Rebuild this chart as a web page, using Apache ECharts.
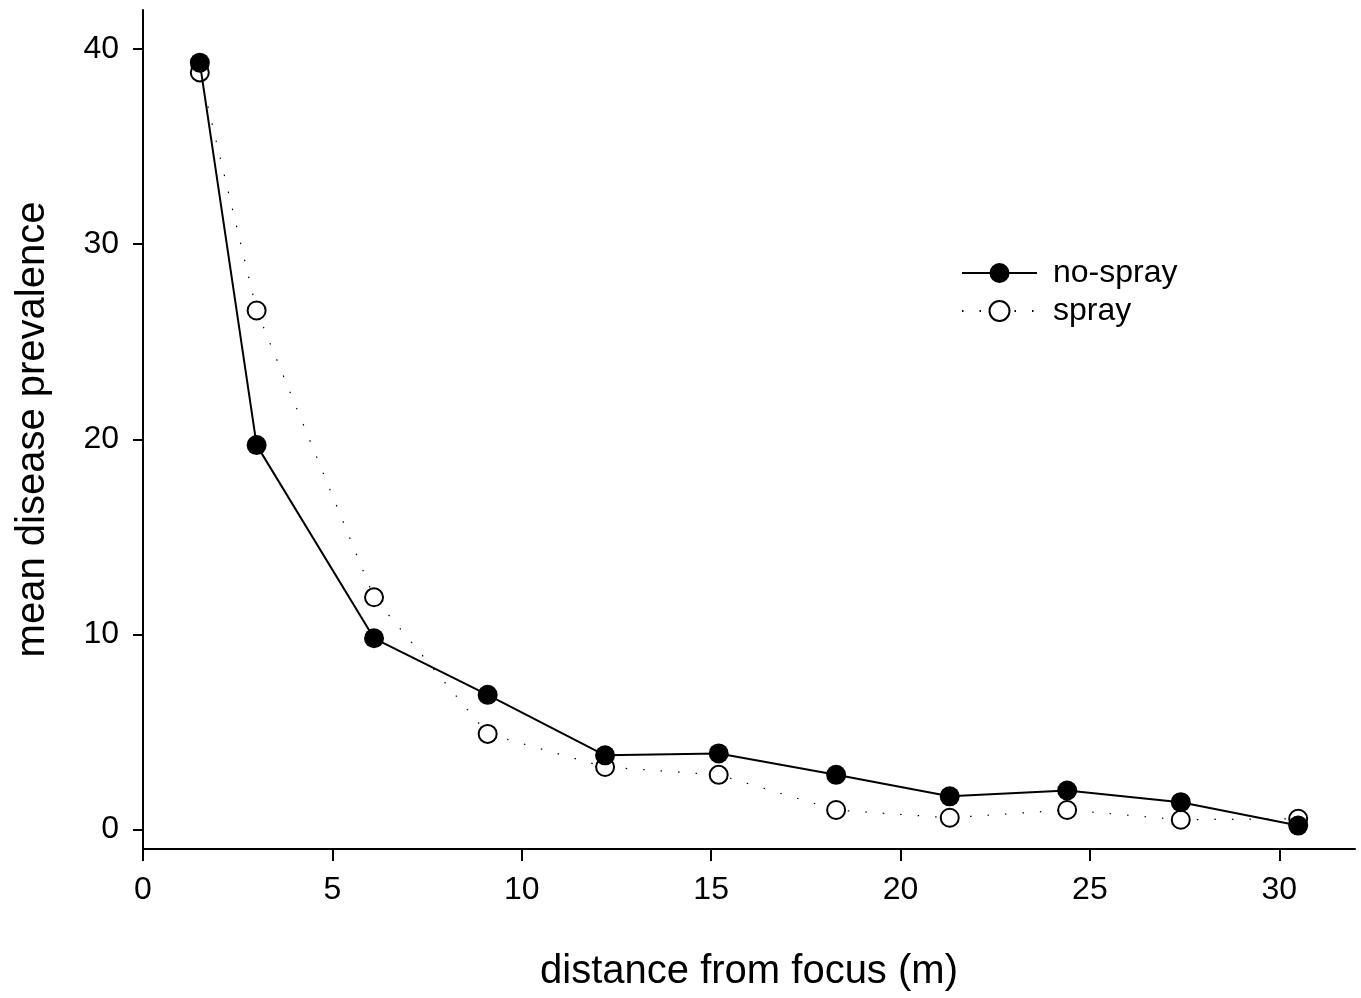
<!DOCTYPE html>
<html>
<head>
<meta charset="utf-8">
<script src="https://cdn.jsdelivr.net/npm/echarts@6/dist/echarts.min.js"></script>
<style>
html,body{margin:0;padding:0;background:#fff;}
#main{width:1361px;height:998px;}
</style>
</head>
<body>
<div id="main"></div>
<script>
var distances = [1.5, 3.0, 6.1, 9.1, 12.2, 15.2, 18.3, 21.3, 24.4, 27.4, 30.5];
var noSpray = [39.3, 19.7, 9.8, 6.9, 3.8, 3.9, 2.8, 1.7, 2.0, 1.4, 0.2];
var spray = [38.8, 26.6, 11.9, 4.9, 3.2, 2.8, 1.0, 0.6, 1.0, 0.5, 0.55];
var xTicks = [0, 5, 10, 15, 20, 25, 30];
var yTicks = [0, 10, 20, 30, 40];

function pairs(xs, ys){ return xs.map(function(x,i){ return [x, ys[i]]; }); }

var font = 'Liberation Sans, Arial, sans-serif';
var chart = echarts.init(document.getElementById('main'));
chart.setOption({
  animation: false,
  backgroundColor: '#fff',
  grid: {left: 143, right: 6, top: 10, bottom: 149, containLabel: false},
  legend: {
    left: 956, top: 252, orient: 'vertical', itemWidth: 75, itemHeight: 25, itemGap: 6,
    textStyle: {fontFamily: font, fontSize: 32, color: '#000', padding: [0,0,0,11]},
    data: ['no-spray', 'spray']
  },
  xAxis: {
    type: 'value', min: 0, max: 32,
    name: 'distance from focus (m)', nameLocation: 'middle', nameGap: 103,
    nameTextStyle: {fontFamily: font, fontSize: 40, color: '#000'},
    axisLine: {show: true, onZero: false, lineStyle: {color: '#000', width: 2}},
    axisTick: {show: true, length: 12, lineStyle: {color: '#000', width: 2}, customValues: xTicks},
    axisLabel: {fontFamily: font, fontSize: 32, color: '#000', margin: 25, customValues: xTicks},
    splitLine: {show: false}
  },
  yAxis: {
    type: 'value', min: -1, max: 42,
    name: 'mean disease prevalence', nameLocation: 'middle', nameGap: 90,
    nameTextStyle: {fontFamily: font, fontSize: 40, color: '#000'},
    axisLine: {show: true, onZero: false, lineStyle: {color: '#000', width: 2}},
    axisTick: {show: true, length: 10, lineStyle: {color: '#000', width: 2}, customValues: yTicks},
    axisLabel: {fontFamily: font, fontSize: 32, color: '#000', margin: 24, customValues: yTicks},
    splitLine: {show: false}
  },
  series: [
    {
      name: 'spray', type: 'line', data: pairs(distances, spray),
      symbol: 'circle', symbolSize: 18, z: 2,
      lineStyle: {color: '#000', width: 1.2, type: [1.5, 16]},
      itemStyle: {color: '#fff', borderColor: '#000', borderWidth: 2}
    },
    {
      name: 'no-spray', type: 'line', data: pairs(distances, noSpray),
      symbol: 'circle', symbolSize: 20, z: 3,
      lineStyle: {color: '#000', width: 2},
      itemStyle: {color: '#000', borderColor: '#000', borderWidth: 0}
    }
  ]
});
</script>
</body>
</html>
